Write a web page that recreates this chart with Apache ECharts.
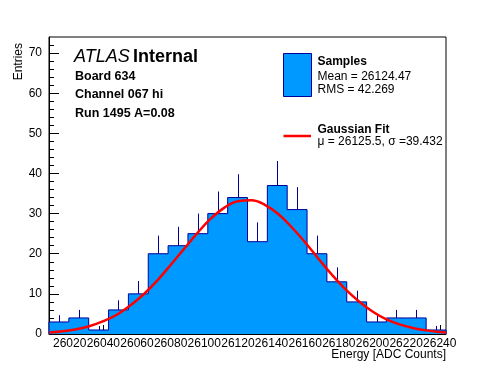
<!DOCTYPE html>
<html>
<head>
<meta charset="utf-8">
<script src="https://cdn.jsdelivr.net/npm/echarts@6/dist/echarts.min.js"></script>
<style>
html,body{margin:0;padding:0;background:#fff;}
#c{width:496px;height:372px;}
</style>
</head>
<body>
<div id="c"></div>
<script>
// ---- data ----
const binEdges = [26007.7, 26019.5, 26031.3, 26043.1, 26054.9, 26066.7, 26078.5, 26090.3, 26102.1, 26113.9,
                  26125.7, 26137.5, 26149.3, 26161.1, 26172.9, 26184.7, 26196.5, 26208.3, 26220.1, 26231.9, 26243.7];
const entries = [3, 4, 1, 6, 10, 20, 22, 25, 30, 34, 23, 37, 31, 20, 13, 8, 3, 4, 4, 1];
const errUp   = [1.7, 2.0, 1.0, 2.4, 3.2, 4.5, 4.7, 5.0, 5.5, 5.8, 4.8, 6.1, 5.6, 4.5, 3.6, 2.8, 1.7, 2.0, 2.0, 1.0];
const fitX = [26008, 26016, 26024, 26032, 26040, 26048, 26056, 26064, 26072, 26080, 26088, 26096, 26104, 26112,
              26120, 26128, 26136, 26144, 26152, 26160, 26168, 26176, 26184, 26192, 26200, 26208, 26216, 26224,
              26232, 26240, 26243.7];
const fitY = [0.4, 0.7, 1.2, 2.0, 3.2, 4.8, 7.1, 9.9, 13.3, 17.2, 21.2, 25.2, 28.8, 31.5,
              33.1, 33.3, 32.2, 29.9, 26.6, 22.8, 18.7, 14.7, 11.1, 8.1, 5.6, 3.7, 2.4, 1.5,
              0.9, 0.5, 0.4];
const xMajorTicks = [26020, 26040, 26060, 26080, 26100, 26120, 26140, 26160, 26180, 26200, 26220, 26240];
const xMinorTicks = [26010, 26015, 26025, 26030, 26035, 26045, 26050, 26055, 26065, 26070, 26075, 26085, 26090, 26095,
                     26105, 26110, 26115, 26125, 26130, 26135, 26145, 26150, 26155, 26165, 26170, 26175,
                     26185, 26190, 26195, 26205, 26210, 26215, 26225, 26230, 26235];
const yMajorTicks = [0, 10, 20, 30, 40, 50, 60, 70];
const yMinorTicks = [2, 4, 6, 8, 12, 14, 16, 18, 22, 24, 26, 28, 32, 34, 36, 38, 42, 44, 46, 48,
                     52, 54, 56, 58, 62, 64, 66, 68, 72];
const xRange = [26007.7, 26243.7];
const yRange = [0, 74];

// ---- build series data ----
const histData = [[binEdges[0], 0]];
for (let i = 0; i < entries.length; i++) histData.push([binEdges[i], entries[i]]);
histData.push([binEdges[binEdges.length - 1], entries[entries.length - 1]]);
histData.push([binEdges[binEdges.length - 1], 0]);

const errData = entries.map((v, i) => [(binEdges[i] + binEdges[i + 1]) / 2, v, v + errUp[i]]);
const fitData = fitX.map((x, i) => [x, fitY[i]]);

const FONT = 'Liberation Sans, Arial, Helvetica, sans-serif';
const FILL = '#0099ff';
const EDGE = '#000099';

const chart = echarts.init(document.getElementById('c'), null, {renderer: 'canvas'});
chart.setOption({
  animation: false,
  backgroundColor: '#ffffff',
  grid: {left: 49, right: 50, top: 37, bottom: 38, show: true, borderColor: '#000', borderWidth: 1, backgroundColor: 'transparent'},
  xAxis: [
    {type: 'value', min: xRange[0], max: xRange[1], position: 'bottom',
     axisLine: {show: true, lineStyle: {color: '#000', width: 1}},
     axisTick: {show: true, inside: true, length: 9, customValues: xMajorTicks, lineStyle: {color: '#000'}},
     axisLabel: {show: true, customValues: xMajorTicks, color: '#000', fontSize: 12, fontFamily: FONT, margin: 4,
                 formatter: v => String(v)},
     splitLine: {show: false}},
    {type: 'value', min: xRange[0], max: xRange[1], position: 'bottom',
     axisLine: {show: false},
     axisTick: {show: true, inside: true, length: 4, customValues: xMinorTicks, lineStyle: {color: '#000'}},
     axisLabel: {show: false},
     splitLine: {show: false}}
  ],
  yAxis: [
    {type: 'value', min: yRange[0], max: yRange[1], position: 'left',
     axisLine: {show: true, lineStyle: {color: '#000', width: 1}},
     axisTick: {show: true, inside: true, length: 10, customValues: yMajorTicks, lineStyle: {color: '#000'}},
     axisLabel: {show: true, customValues: yMajorTicks, color: '#000', fontSize: 12, fontFamily: FONT, margin: 7},
     splitLine: {show: false}},
    {type: 'value', min: yRange[0], max: yRange[1], position: 'left',
     axisLine: {show: false},
     axisTick: {show: true, inside: true, length: 5, customValues: yMinorTicks, lineStyle: {color: '#000'}},
     axisLabel: {show: false},
     splitLine: {show: false}}
  ],
  series: [
    {type: 'line', name: 'Samples', xAxisIndex: 0, yAxisIndex: 0, data: histData, step: 'end',
     symbol: 'none', lineStyle: {color: EDGE, width: 1}, areaStyle: {color: FILL, opacity: 1}, z: 2},
    {type: 'custom', name: 'err', xAxisIndex: 0, yAxisIndex: 0, data: errData, z: 3,
     renderItem: function (params, api) {
       const p0 = api.coord([api.value(0), api.value(1)]);
       const p1 = api.coord([api.value(0), api.value(2)]);
       const x = Math.round(p0[0]) + 0.5;
       return {type: 'line', shape: {x1: x, y1: p0[1], x2: x, y2: p1[1]}, style: {stroke: EDGE, lineWidth: 1}};
     }},
    {type: 'line', name: 'Gaussian Fit', xAxisIndex: 0, yAxisIndex: 0, data: fitData, smooth: 0.4,
     symbol: 'none', lineStyle: {color: '#ff0000', width: 2.5}, z: 4}
  ],
  graphic: [
    {type: 'text', x: 19, y: 43, rotation: Math.PI / 2,
     style: {text: 'Entries', fill: '#000', font: '12px ' + FONT, align: 'right', verticalAlign: 'middle'}},
    {type: 'text', x: 446, y: 355,
     style: {text: 'Energy [ADC Counts]', fill: '#000', font: '12px ' + FONT, align: 'right', verticalAlign: 'middle'}},
    {type: 'text', x: 74, y: 57,
     style: {text: '{a|ATLAS} {b|Internal}', verticalAlign: 'middle', align: 'left',
             rich: {a: {fontFamily: FONT, fontSize: 18, fontStyle: 'italic', fill: '#000'},
                    b: {fontFamily: FONT, fontSize: 18, fontWeight: 'bold', fill: '#000'}}}},
    {type: 'text', x: 75, y: 76.5,
     style: {text: 'Board 634', fill: '#000', font: 'bold 12.5px ' + FONT, verticalAlign: 'middle'}},
    {type: 'text', x: 75, y: 95,
     style: {text: 'Channel 067 hi', fill: '#000', font: 'bold 12.5px ' + FONT, verticalAlign: 'middle'}},
    {type: 'text', x: 75, y: 114,
     style: {text: 'Run 1495 A=0.08', fill: '#000', font: 'bold 12.5px ' + FONT, verticalAlign: 'middle'}},
    {type: 'rect', shape: {x: 283.5, y: 53.5, width: 28, height: 43},
     style: {fill: FILL, stroke: EDGE, lineWidth: 1}},
    {type: 'text', x: 317.5, y: 61.5,
     style: {text: 'Samples', fill: '#000', font: 'bold 12px ' + FONT, verticalAlign: 'middle'}},
    {type: 'text', x: 317.5, y: 76.5,
     style: {text: 'Mean = 26124.47', fill: '#000', font: '12px ' + FONT, verticalAlign: 'middle'}},
    {type: 'text', x: 317.5, y: 90,
     style: {text: 'RMS = 42.269', fill: '#000', font: '12px ' + FONT, verticalAlign: 'middle'}},
    {type: 'line', shape: {x1: 283.5, y1: 136, x2: 311, y2: 136},
     style: {stroke: '#ff0000', lineWidth: 2.5}},
    {type: 'text', x: 317.5, y: 129.5,
     style: {text: 'Gaussian Fit', fill: '#000', font: 'bold 12px ' + FONT, verticalAlign: 'middle'}},
    {type: 'text', x: 317.5, y: 142,
     style: {text: 'μ = 26125.5, σ =39.432', fill: '#000', font: '12px ' + FONT, verticalAlign: 'middle'}}
  ]
});
</script>
</body>
</html>
